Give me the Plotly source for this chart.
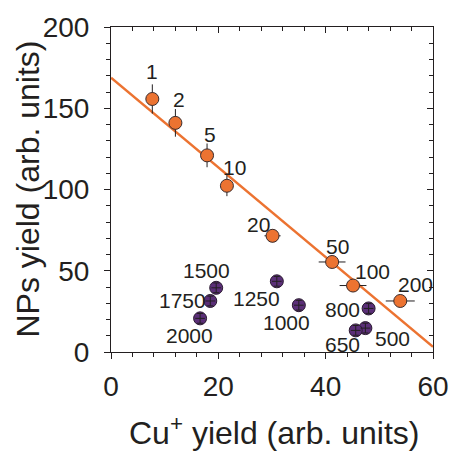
import plotly.graph_objects as go

# ---------------- data ----------------
# Orange series (labels = pulse numbers 1..200)
orange_labels = ["1", "2", "5", "10", "20", "50", "100", "200"]
orange_x = [7.7, 12.0, 17.9, 21.6, 30.1, 41.2, 45.1, 53.9]
orange_y = [155.7, 141.0, 121.0, 102.3, 71.5, 55.4, 40.9, 31.4]
orange_xerr = [0.0, 0.0, 0.0, 0.0, 1.5, 2.5, 2.5, 2.7]
orange_yerr = [9.0, 8.5, 7.3, 6.4, 4.0, 0.0, 0.0, 0.0]

# Purple series (labels = pulse numbers 500..2000)
purple_labels = ["500", "650", "800", "1000", "1250", "1500", "1750", "2000"]
purple_x = [47.4, 45.6, 48.0, 35.0, 30.9, 19.6, 18.5, 16.6]
purple_y = [14.7, 13.3, 26.8, 28.8, 43.5, 39.5, 31.4, 20.7]
purple_xerr = [0.9, 0.9, 0.9, 0.9, 0.9, 0.9, 0.9, 0.9]
purple_yerr = [3.0, 3.0, 3.0, 3.0, 3.0, 3.0, 3.0, 3.0]

# Linear fit line (NPs = intercept + slope * Cu+)
fit_intercept = 168.8
fit_slope = -2.76
fit_x = [0, 60]

x_range = [0, 60]
y_range = [0, 200]

# label offsets (pixels), styles
orange_offsets = [(0, -27), (4, -23), (3, -21), (8, -18), (-14, -11), (5, -15), (19, -14), (15, -16)]
purple_offsets = [(27, 10), (-13, 14), (-26, 1), (-12, 17), (-20, 17), (-10, -17), (-28, 0), (-11, 17)]

INK = "#231F20"
ORANGE = "#EC7331"
PURPLE = "#5B2F78"
FONT = "Liberation Sans, Arial, Helvetica, sans-serif"

fig = go.Figure()

fit_y = [fit_intercept + fit_slope * v for v in fit_x]
fig.add_trace(go.Scatter(x=fit_x, y=fit_y, mode="lines",
                         line=dict(color=ORANGE, width=2.5),
                         showlegend=False, hoverinfo="skip", cliponaxis=True))

fig.add_trace(go.Scatter(
    x=orange_x, y=orange_y, mode="markers",
    marker=dict(size=13, color=ORANGE, line=dict(color="#3a2b2b", width=1)),
    error_x=dict(type="data", array=orange_xerr, color=INK, thickness=1, width=0),
    error_y=dict(type="data", array=orange_yerr, color=INK, thickness=1, width=0),
    showlegend=False, cliponaxis=False))

fig.add_trace(go.Scatter(
    x=purple_x, y=purple_y, mode="markers",
    marker=dict(size=13, color=PURPLE, line=dict(color="#2a1a30", width=1)),
    showlegend=False, cliponaxis=False))

# error crosses drawn on top of purple markers
fig.add_trace(go.Scatter(
    x=purple_x, y=purple_y, mode="markers",
    marker=dict(size=1, color="rgba(0,0,0,0)"),
    error_x=dict(type="data", array=purple_xerr, color=INK, thickness=1, width=0),
    error_y=dict(type="data", array=purple_yerr, color=INK, thickness=1, width=3),
    showlegend=False, hoverinfo="skip", cliponaxis=False))

# dummy trace for mirrored top/right axes
fig.add_trace(go.Scatter(x=[None], y=[None], xaxis="x2", yaxis="y2", mode="markers",
                         showlegend=False, hoverinfo="skip"))

annotations = []
for lab, xv, yv, (dx, dy) in zip(orange_labels, orange_x, orange_y, orange_offsets):
    annotations.append(dict(x=xv, y=yv, xref="x", yref="y", text=lab, showarrow=False,
                            xshift=dx, yshift=-dy, font=dict(size=21, color=INK, family=FONT)))
for lab, xv, yv, (dx, dy) in zip(purple_labels, purple_x, purple_y, purple_offsets):
    annotations.append(dict(x=xv, y=yv, xref="x", yref="y", text=lab, showarrow=False,
                            xshift=dx, yshift=-dy, font=dict(size=21, color=INK, family=FONT)))

annotations.append(dict(x=0.5, y=0, xref="paper", yref="paper", text="Cu<sup>+</sup> yield (arb. units)",
                        showarrow=False, yanchor="middle", yshift=-79, xshift=2,
                        font=dict(size=32, color=INK, family=FONT)))
annotations.append(dict(x=0, y=0.5, xref="paper", yref="paper", text="NPs yield (arb. units)",
                        showarrow=False, xanchor="center", xshift=-84, textangle=-90,
                        font=dict(size=32, color=INK, family=FONT)))

axis_common = dict(showgrid=False, zeroline=False, showline=True, linecolor=INK, linewidth=1,
                   tickcolor=INK, tickwidth=1)

fig.update_layout(
    width=461, height=453,
    margin=dict(l=111, r=18, t=20, b=101),
    paper_bgcolor="white", plot_bgcolor="white",
    font=dict(family=FONT, color=INK),
    xaxis=dict(range=x_range, dtick=20, tick0=0, ticks="outside", ticklen=6,
               minor=dict(dtick=4, tick0=0, ticks="outside", ticklen=4, tickcolor=INK),
               tickfont=dict(size=28, color=INK, family=FONT), ticklabelstandoff=3,
               **axis_common),
    yaxis=dict(range=y_range, dtick=50, tick0=0, ticks="outside", ticklen=6,
               minor=dict(dtick=10, tick0=0, ticks="outside", ticklen=4, tickcolor=INK),
               tickfont=dict(size=28, color=INK, family=FONT), ticklabelstandoff=9,
               **axis_common),
    xaxis2=dict(range=x_range, dtick=20, tick0=0, overlaying="x", side="top", anchor="y2",
                ticks="inside", ticklen=6, showticklabels=False,
                minor=dict(dtick=4, tick0=0, ticks="inside", ticklen=4, tickcolor=INK),
                **axis_common),
    yaxis2=dict(range=y_range, dtick=50, tick0=0, overlaying="y", side="right", anchor="x2",
                ticks="inside", ticklen=6, showticklabels=False,
                minor=dict(dtick=10, tick0=0, ticks="inside", ticklen=4, tickcolor=INK),
                **axis_common),
    annotations=annotations,
)

fig.write_html("out.html")
